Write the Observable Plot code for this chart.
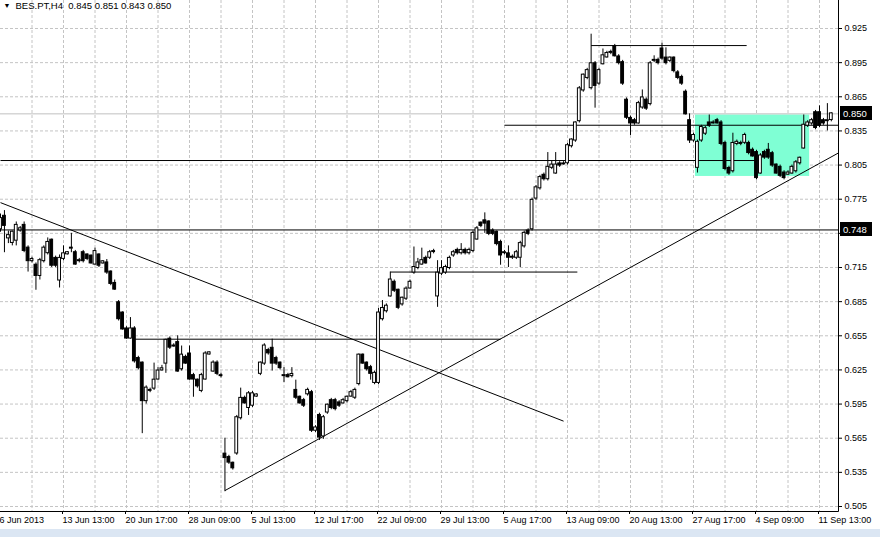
<!DOCTYPE html>
<html>
<head>
<meta charset="utf-8">
<script src="https://cdn.jsdelivr.net/npm/d3@7"></script>
<script src="https://cdn.jsdelivr.net/npm/@observablehq/plot@0.6"></script>
<style>
  html, body { margin: 0; padding: 0; background: #fff; }
  #chart { width: 880px; height: 537px; overflow: hidden; }
</style>
</head>
<body>
<div id="chart"></div>
<script>
// ---- Data (BES.PT, H4) : one value per bar, bar index 0..211 ----
const symbol = "BES.PT,H4";
const open = [
  .749,.760,.741,.737,.739,.748,.752,.732,.721,.717,
  .708,.721,.728,.739,.723,.704,.723,.727,.732,.728,
  .721,.728,.726,.725,.718,.726,.719,.719,.711,.701,
  .684,.675,.661,.653,.661,.635,.631,.598,.607,.609,
  .617,.625,.631,.652,.646,.649,.626,.636,.639,.620,
  .616,.607,.617,.639,.624,.631,.620,.551,.548,.543,
  .552,.583,.600,.592,.594,.602,.622,.631,.642,.644,
  .635,.631,.620,.620,.620,.607,.601,.598,.604,.605,
  .572,.585,.567,.588,.598,.598,.596,.596,.598,.602,
  .601,.613,.638,.631,.627,.614,.614,.670,.677,.690,
  .702,.695,.683,.688,.697,.711,.715,.718,.723,.724,
  .729,.690,.710,.711,.715,.726,.730,.728,.730,.728,
  .730,.740,.754,.756,.755,.747,.746,.737,.728,.727,
  .724,.724,.724,.734,.747,.749,.776,.785,.796,.793,
  .803,.798,.806,.806,.807,.822,.827,.844,.871,.882,
  .873,.894,.877,.894,.900,.904,.909,.900,.895,.862,
  .846,.844,.842,.856,.862,.859,.897,.897,.907,.899,
  .897,.899,.886,.882,.869,.844,.827,.803,.827,.833,
  .842,.842,.844,.842,.824,.802,.800,.824,.824,.825,
  .824,.818,.816,.798,.816,.818,.815,.805,.803,.798,
  .797,.798,.800,.807,.820,.840,.842,.851,.851,.844,
  .844,.845
];
const high = [
  .762,.765,.747,.747,.755,.751,.755,.734,.724,.719,
  .723,.734,.741,.740,.725,.726,.734,.729,.745,.730,
  .723,.730,.727,.726,.732,.727,.721,.722,.712,.704,
  .686,.676,.663,.671,.663,.637,.632,.611,.609,.631,
  .627,.629,.652,.654,.648,.655,.646,.638,.646,.622,
  .617,.622,.641,.641,.633,.633,.622,.565,.550,.544,
  .585,.609,.602,.606,.606,.604,.632,.648,.644,.652,
  .637,.632,.627,.622,.627,.616,.602,.600,.609,.607,
  .576,.587,.585,.595,.600,.600,.598,.600,.602,.607,
  .609,.639,.639,.632,.629,.624,.679,.686,.683,.711,
  .704,.696,.689,.698,.704,.733,.723,.732,.725,.730,
  .731,.721,.721,.717,.725,.730,.732,.736,.732,.732,
  .747,.751,.755,.763,.756,.749,.747,.739,.730,.734,
  .726,.730,.738,.747,.749,.776,.787,.796,.798,.816,
  .809,.816,.808,.808,.824,.828,.843,.874,.885,.890,
  .920,.896,.890,.907,.905,.906,.911,.902,.897,.864,
  .848,.846,.861,.871,.864,.896,.901,.899,.912,.908,
  .900,.900,.888,.884,.871,.850,.833,.827,.840,.839,
  .849,.844,.846,.844,.826,.804,.833,.827,.826,.833,
  .826,.820,.818,.815,.818,.824,.817,.806,.805,.800,
  .800,.805,.809,.812,.849,.844,.846,.853,.857,.846,
  .859,.851
];
const low = [
  .746,.728,.736,.734,.734,.746,.728,.711,.719,.695,
  .704,.719,.726,.715,.715,.697,.721,.726,.728,.717,
  .719,.719,.721,.718,.717,.715,.718,.709,.699,.695,
  .668,.660,.652,.652,.631,.625,.569,.595,.605,.607,
  .616,.624,.622,.643,.645,.623,.624,.630,.616,.601,
  .609,.605,.616,.638,.623,.620,.618,.518,.542,.537,
  .550,.581,.595,.585,.592,.601,.620,.629,.638,.624,
  .629,.625,.614,.618,.618,.599,.595,.592,.602,.570,
  .570,.563,.564,.586,.590,.589,.592,.595,.596,.601,
  .599,.611,.630,.624,.616,.612,.612,.668,.675,.689,
  .693,.678,.681,.686,.696,.709,.713,.717,.718,.722,
  .727,.680,.708,.709,.713,.724,.726,.726,.726,.726,
  .728,.739,.750,.745,.743,.743,.734,.717,.726,.715,
  .722,.722,.715,.732,.743,.747,.774,.783,.791,.791,
  .801,.797,.803,.805,.805,.820,.825,.842,.869,.880,
  .871,.855,.875,.893,.899,.902,.900,.893,.875,.845,
  .831,.840,.841,.854,.853,.857,.895,.893,.897,.893,
  .895,.886,.880,.875,.849,.824,.825,.798,.825,.831,
  .838,.841,.841,.822,.800,.796,.798,.822,.822,.823,
  .814,.812,.792,.797,.810,.810,.803,.797,.794,.792,
  .796,.797,.798,.805,.819,.838,.840,.836,.838,.840,
  .835,.843
];
const close = [
  .758,.752,.743,.746,.752,.749,.730,.721,.722,.708,
  .721,.732,.737,.717,.717,.723,.727,.728,.732,.718,
  .721,.721,.723,.719,.729,.717,.720,.711,.701,.696,
  .670,.661,.653,.661,.633,.627,.598,.609,.607,.616,
  .624,.626,.651,.645,.646,.624,.638,.631,.617,.617,
  .611,.620,.639,.640,.631,.622,.620,.548,.544,.539,
  .583,.600,.596,.604,.604,.603,.631,.646,.640,.631,
  .631,.627,.620,.619,.621,.601,.596,.594,.607,.572,
  .574,.566,.583,.594,.592,.591,.594,.598,.601,.605,
  .607,.638,.631,.626,.622,.622,.675,.679,.681,.704,
  .695,.680,.688,.696,.702,.715,.719,.721,.719,.728,
  .729,.710,.714,.715,.723,.728,.728,.730,.728,.730,
  .745,.749,.752,.754,.745,.745,.736,.726,.728,.724,
  .724,.728,.736,.745,.745,.774,.785,.794,.793,.803,
  .805,.805,.805,.806,.822,.827,.842,.872,.884,.888,
  .894,.875,.888,.901,.903,.904,.901,.895,.877,.847,
  .842,.842,.859,.864,.855,.894,.897,.895,.899,.895,
  .899,.888,.882,.877,.850,.827,.831,.825,.838,.837,
  .840,.842,.842,.824,.802,.798,.824,.825,.824,.831,
  .816,.813,.794,.813,.812,.812,.805,.798,.796,.794,
  .798,.803,.807,.811,.840,.842,.844,.838,.840,.842,
  .844,.850
];

// Time axis labels (one every 16 bars) and price ticks
const dateLabels = ["6 Jun 2013","13 Jun 13:00","20 Jun 17:00","28 Jun 09:00","5 Jul 13:00",
  "12 Jul 17:00","22 Jul 09:00","29 Jul 13:00","5 Aug 17:00","13 Aug 09:00",
  "20 Aug 13:00","27 Aug 17:00","4 Sep 09:00","11 Sep 13:00"];
const labelBars = [0,16,32,48,64,80,96,112,128,144,160,176,192,208];
const gridBars = [8,16,24,32,40,48,56,64,72,80,88,96,104,112,120,128,136,144,152,160,168,176,184,192,200,208];
const priceTicks = [0.505,0.535,0.565,0.595,0.625,0.655,0.685,0.715,0.745,0.775,0.805,0.835,0.865,0.895,0.925];

// Drawn objects (bar index, price)
const levelPrice = [0.748, 0.809, 0.840, 0.910, 0.711, 0.652];
const levelFrom  = [0,     0,     128,   150,   99,    34];
const levelTo    = [213,   192,   213,   189.5, 146.5, 127];
const trendFromBar = [0, 57];
const trendFromPrice = [0.772, 0.519];
const trendToBar = [143, 213];
const trendToPrice = [0.580, 0.816];
const boxBars = [176.5, 205.5];
const boxPrices = [0.795, 0.849];
const bidPrice = 0.850;
const lineLabelPrice = 0.748;

// ---- Build tables ----
const bars = open.map((o, i) => ({i, o, h: high[i], l: low[i], c: close[i]}));
const bulls = bars.filter(d => d.c >= d.o);
const bears = bars.filter(d => d.c < d.o);
const levels = levelPrice.map((p, k) => ({p, a: levelFrom[k], b: levelTo[k]}));
const trends = trendFromBar.map((a, k) => ({a, pa: trendFromPrice[k], b: trendToBar[k], pb: trendToPrice[k]}));
const box = [{a: boxBars[0], b: boxBars[1], p1: boxPrices[0], p2: boxPrices[1]}];
const last = bars[bars.length - 1];
const header = symbol + "\u00a0\u00a0" + [last.o, last.h, last.l, last.c].map(v => v.toFixed(3)).join("\u00a0");

const W = 880, H = 537, MR = 42, MB = 26;
const step = 3.9375;
const FONT = "'Liberation Sans', Arial, sans-serif";

const chart = Plot.plot({
  width: W, height: H,
  marginLeft: 0, marginRight: MR, marginTop: 0, marginBottom: MB,
  style: {fontFamily: FONT, fontSize: "9px", background: "#fff", color: "#000", overflow: "visible"},
  x: {type: "linear", domain: [0, 211], range: [0, 211 * step]},
  y: {type: "linear", domain: [0.505, 0.925], range: [506, 28]},
  marks: [
    // grid
    Plot.ruleX(gridBars, {x: d => d, stroke: "#c4c4c4", strokeDasharray: "3,2", strokeWidth: 1}),
    Plot.ruleY(priceTicks, {y: d => d, stroke: "#c4c4c4", strokeDasharray: "3,2", strokeWidth: 1}),
    // rectangle object
    Plot.rect(box, {x1: "a", x2: "b", y1: "p1", y2: "p2", fill: "#7fffd4", clip: true}),
    // bid line
    Plot.ruleY([bidPrice], {stroke: "#c0c0c0", strokeWidth: 1}),
    // horizontal levels and trend lines
    Plot.link(levels, {x1: "a", x2: "b", y1: "p", y2: "p", stroke: "#000", strokeWidth: 1, clip: true}),
    Plot.link(trends, {x1: "a", y1: "pa", x2: "b", y2: "pb", stroke: "#000", strokeWidth: 1, clip: true}),
    // candles
    Plot.ruleX(bars, {x: "i", y1: "l", y2: "h", stroke: "#000", strokeWidth: 1, clip: true}),
    Plot.rect(bulls, {x1: d => d.i - 0.36, x2: d => d.i + 0.36, y1: "o", y2: "c", fill: "#fff", stroke: "#000", strokeWidth: 1, insetTop: -0.5, insetBottom: -0.5, clip: true}),
    Plot.rect(bears, {x1: d => d.i - 0.36, x2: d => d.i + 0.36, y1: "o", y2: "c", fill: "#000", stroke: "#000", strokeWidth: 1, insetTop: -0.5, insetBottom: -0.5, clip: true}),
    // axes (the 0.745 label lies under the 0.748 line label box)
    Plot.axisY(priceTicks, {anchor: "right", tickSize: 3, tickPadding: 3,
      tickFormat: d => Math.abs(d - lineLabelPrice) < 0.005 ? "" : d.toFixed(3), fontSize: 9}),
    Plot.axisX(labelBars, {anchor: "bottom", tickSize: 3, tickPadding: 2, textAnchor: "start", dx: -1,
      tickFormat: d => dateLabels[labelBars.indexOf(d)], fontSize: 9}),
    // header
    Plot.text(["\u25BC"], {frameAnchor: "top-left", dx: 3, dy: 3, lineAnchor: "top", textAnchor: "start", fontSize: 7}),
    Plot.text([header], {frameAnchor: "top-left", dx: 15, dy: 2, lineAnchor: "top", textAnchor: "start", fontSize: 9.5})
  ]
});

document.getElementById("chart").appendChild(chart);

// ---- chart chrome: axis lines, price label boxes, bottom strip ----
const svg = d3.select(chart);
const ys = chart.scale("y");
const fx = W - MR, fy = H - MB;
svg.append("line").attr("x1", fx + 0.5).attr("x2", fx + 0.5).attr("y1", 0).attr("y2", fy + 0.5).attr("stroke", "#000");
svg.append("line").attr("x1", 0).attr("x2", fx + 0.5).attr("y1", fy + 0.5).attr("y2", fy + 0.5).attr("stroke", "#000");
for (const v of [bidPrice, lineLabelPrice]) {
  const y = ys.apply(v);
  const g = svg.append("g");
  g.append("rect").attr("x", fx + 2).attr("y", Math.round(y) - 7).attr("width", 32).attr("height", 14).attr("fill", "#000");
  g.append("text").attr("x", fx + 5).attr("y", Math.round(y) + 3.5).attr("fill", "#fff")
    .attr("text-anchor", "start")
    .attr("font-family", FONT).attr("font-size", 9.5).text(v.toFixed(3));
}
svg.append("rect").attr("x", 0).attr("y", 529).attr("width", W).attr("height", H - 529).attr("fill", "#dbe6f3");
</script>
</body>
</html>
